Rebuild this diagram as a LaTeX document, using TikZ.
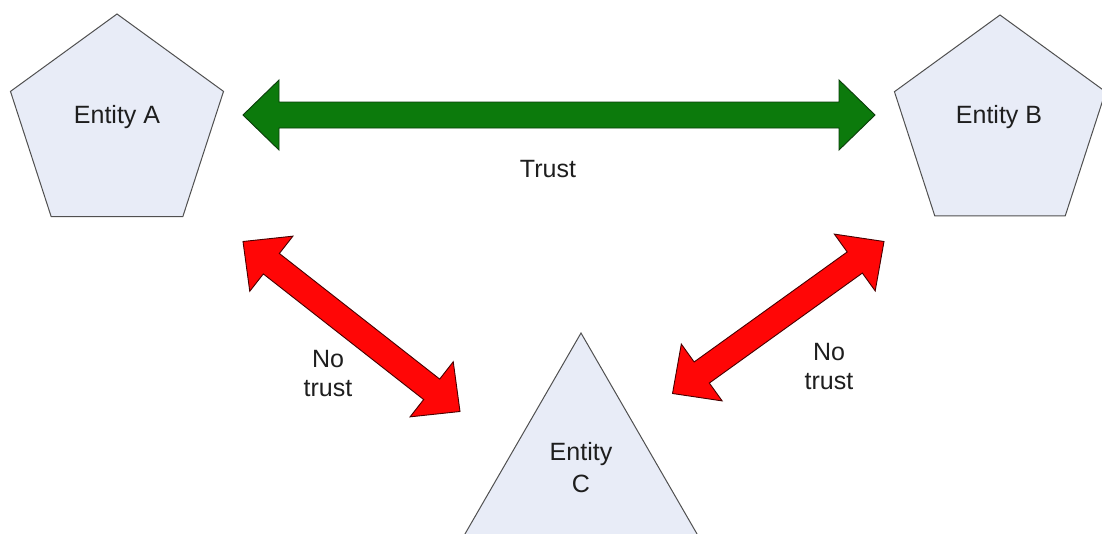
\documentclass[tikz,border=0pt]{standalone}
\usepackage{fontspec}
\setmainfont{Liberation Sans}
\usetikzlibrary{shapes.geometric,calc}

\definecolor{entityfill}{RGB}{232,236,247}
\definecolor{entityline}{RGB}{80,80,80}
\definecolor{trustgreen}{RGB}{12,122,12}
\definecolor{trustedge}{RGB}{10,60,10}
\definecolor{notrustred}{RGB}{255,6,6}
\definecolor{notrustedge}{RGB}{70,0,0}
\definecolor{labelink}{RGB}{30,30,30}

% dimensions of the wide two-headed arrows
\newcommand\headlen{36pt}
\newcommand\headhalf{35pt}
\newcommand\shafthalf{13pt}

% #1 style, #2 and #3 names of the two tip coordinates
\newcommand\widearrow[3]{%
  \coordinate (#2h) at ($(#2)!\headlen!(#3)$);
  \coordinate (#3h) at ($(#3)!\headlen!(#2)$);
  \filldraw[#1] (#2)
    -- ($(#2h)!\headhalf!90:(#3)$)
    -- ($(#2h)!\shafthalf!90:(#3)$)
    -- ($(#3h)!\shafthalf!-90:(#2)$)
    -- ($(#3h)!\headhalf!-90:(#2)$)
    -- (#3)
    -- ($(#3h)!\headhalf!90:(#2)$)
    -- ($(#3h)!\shafthalf!90:(#2)$)
    -- ($(#2h)!\shafthalf!-90:(#3)$)
    -- ($(#2h)!\headhalf!-90:(#3)$)
    -- cycle;
}

\tikzset{
  entity/.style={regular polygon, draw=entityline, fill=entityfill,
    line width=1pt, inner sep=0pt},
  pentagon/.style={entity, regular polygon sides=5},
  triangle/.style={entity, regular polygon sides=3},
  caption/.style={text=labelink, font=\fontsize{25}{29}\selectfont,
    inner sep=0pt},
  multiline/.style={caption, align=center},
  trustarrow/.style={fill=trustgreen, draw=trustedge, line width=0.9pt,
    line join=miter},
  notrustarrow/.style={fill=notrustred, draw=notrustedge, line width=0.9pt,
    line join=miter},
}

\begin{document}
\begin{tikzpicture}[x=1pt, y=-1pt]
  \useasboundingbox (0,0) rectangle (1102,533);
  \clip (0,0) rectangle (1102,533);
  \fill[white] (0,0) rectangle (1102,533);

  % the three entities
  \node[pentagon, minimum size=224pt] (A) at (117,126) {};
  \node[pentagon, minimum size=222pt] (B) at (1000,126) {};
  \node[triangle, minimum size=330pt] (C) at (581,498) {};

  \node[caption, anchor=base] (Atext) at (117,123) {Entity A};
  \node[caption, anchor=base] (Btext) at (999,123) {Entity B};
  \node[multiline, font=\fontsize{25}{32}\selectfont] (Ctext) at (581,468) {Entity\\C};

  % tips of the relation arrows
  \coordinate (ab1) at (243,115);
  \coordinate (ab2) at (875,115);
  \coordinate (ac1) at (243,241.5);
  \coordinate (ac2) at (460,411.5);
  \coordinate (bc1) at (884,241.5);
  \coordinate (bc2) at (672.5,393.5);

  \widearrow{trustarrow}{ab1}{ab2}
  \widearrow{notrustarrow}{ac1}{ac2}
  \widearrow{notrustarrow}{bc1}{bc2}

  % relation labels
  \node[caption, anchor=base] (abtext) at (548,177) {Trust};
  \node[multiline] (actext) at (328,374) {No\\trust};
  \node[multiline] (bctext) at (829,367) {No\\trust};
\end{tikzpicture}
\end{document}
